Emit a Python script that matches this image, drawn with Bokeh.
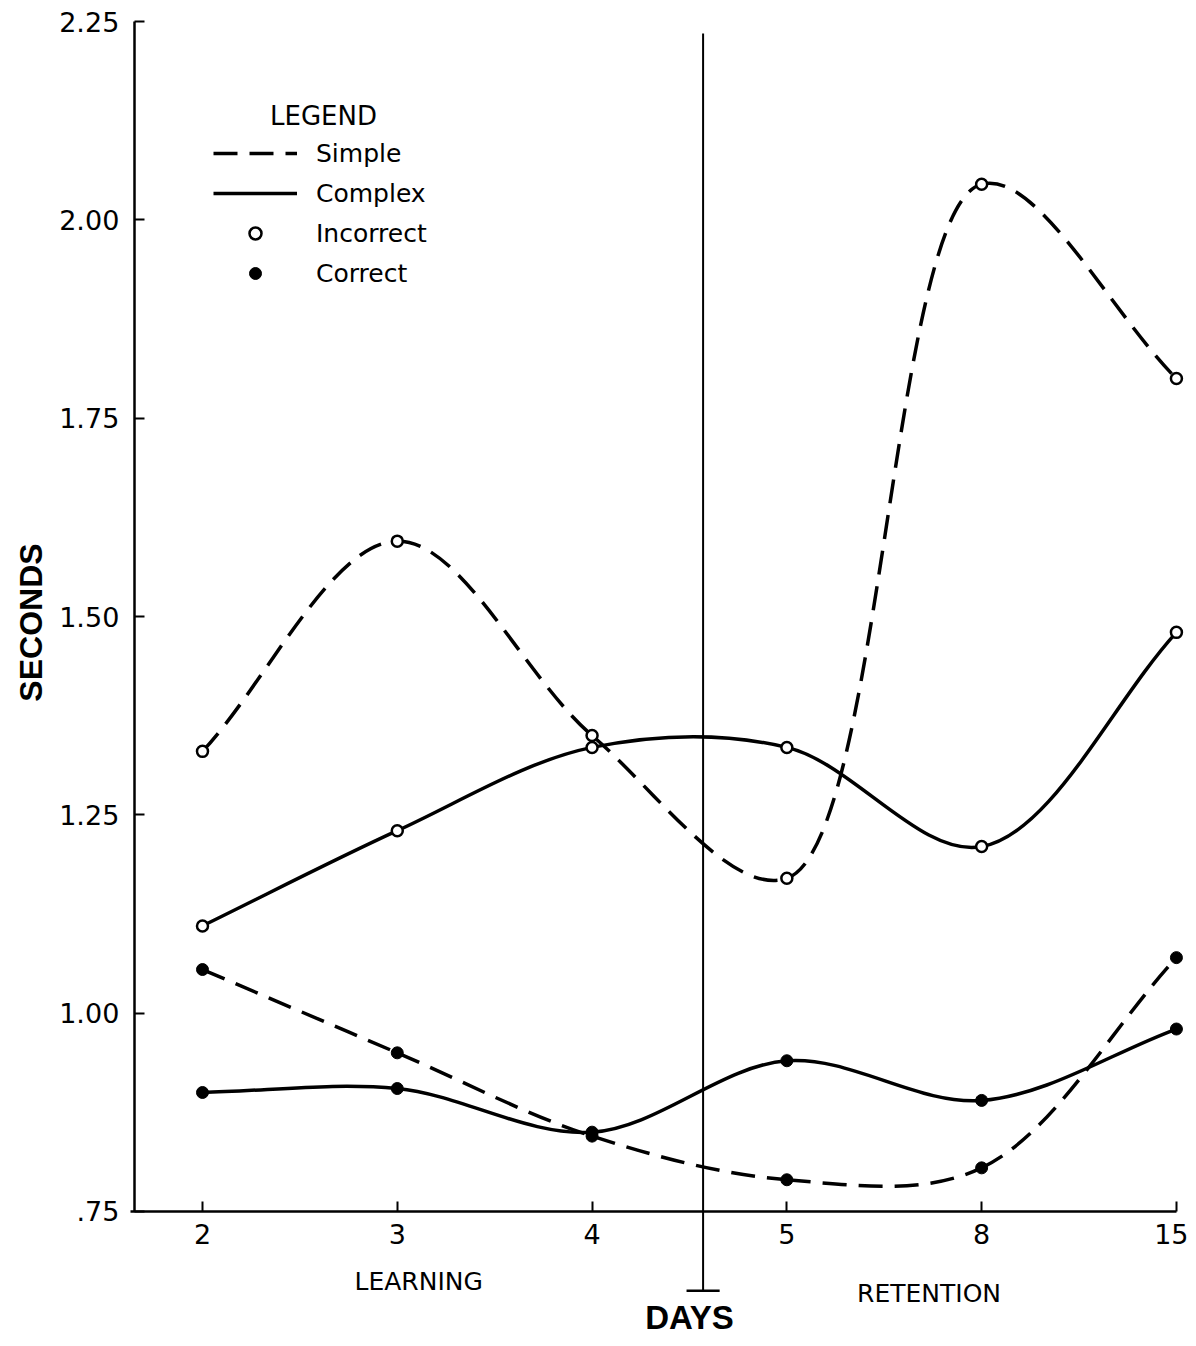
import math
from bokeh.plotting import figure
from bokeh.models import (Range1d, FixedTicker, CustomJSTickFormatter, Label,
                          Legend, LegendItem)
from bokeh.embed import file_html
from bokeh.resources import INLINE

# ---- data ----
days = ["2", "3", "4", "5", "8", "15"]
simple_incorrect = [1.33, 1.595, 1.35, 1.17, 2.045, 1.80]
complex_incorrect = [1.11, 1.23, 1.335, 1.335, 1.21, 1.48]
simple_correct = [1.055, 0.95, 0.845, 0.79, 0.805, 1.07]
complex_correct = [0.90, 0.905, 0.85, 0.94, 0.89, 0.98]
y_ticks = [0.75, 1.00, 1.25, 1.50, 1.75, 2.00, 2.25]

xs = list(range(len(days)))

FONT = "DejaVu Sans"
BOLD = "Liberation Sans"
DASH = "24 12"

W, H = 1188, 1338
X0, X1 = -1.037, 5.062
Y0, Y1 = 0.5899, 2.2765
p = figure(width=W, height=H,
           x_range=Range1d(X0, X1), y_range=Range1d(Y0, Y1),
           output_backend="svg", toolbar_location=None, min_border=0,
           outline_line_color=None, background_fill_color="white",
           border_fill_color="white")
p.title.visible = False
p.grid.visible = False

# axes drawn at fixed data locations inside the frame
p.xaxis.fixed_location = 0.75
p.yaxis.fixed_location = -0.35
p.xaxis.bounds = (-0.37, len(days) - 1)
p.yaxis.bounds = (y_ticks[0], y_ticks[-1])
p.xaxis.ticker = FixedTicker(ticks=xs)
p.yaxis.ticker = FixedTicker(ticks=y_ticks)
p.xaxis.formatter = CustomJSTickFormatter(args=dict(labels=days),
                                          code="return labels[Math.round(tick)]")
p.yaxis.formatter = CustomJSTickFormatter(
    code="const s = tick.toFixed(2); return tick < 1 ? s.slice(1) : s")
for ax in (p.xaxis, p.yaxis):
    ax.axis_line_width = 2.5
    ax.axis_line_color = "black"
    ax.major_tick_line_width = 2
    ax.major_tick_line_color = "black"
    ax.major_tick_in = 10
    ax.major_tick_out = 0
    ax.minor_tick_line_color = None
    ax.major_label_text_font = FONT
    ax.major_label_text_font_size = "27px"
    ax.major_label_text_color = "black"
p.xaxis.major_label_standoff = 13
p.yaxis.major_label_standoff = 15

SX = W / (X1 - X0)
SY = H / (Y1 - Y0)


def bezier_parts(x, y, alpha=0.5):
    """Centripetal Catmull-Rom through the data points, as cubic Bezier pieces."""
    P = [(xi * SX, yi * SY) for xi, yi in zip(x, y)]
    n = len(P)
    ext = ([(2 * P[0][0] - P[1][0], 2 * P[0][1] - P[1][1])] + P +
           [(2 * P[-1][0] - P[-2][0], 2 * P[-1][1] - P[-2][1])])

    def dist(a, b):
        return max(math.hypot(b[0] - a[0], b[1] - a[1]), 1e-9) ** alpha

    d = dict(x0=[], y0=[], x1=[], y1=[], cx0=[], cy0=[], cx1=[], cy1=[])
    for i in range(n - 1):
        p0, p1, p2, p3 = ext[i], ext[i + 1], ext[i + 2], ext[i + 3]
        t01, t12, t23 = dist(p0, p1), dist(p1, p2), dist(p2, p3)
        m1 = [t12 * ((p1[k] - p0[k]) / t01 - (p2[k] - p0[k]) / (t01 + t12)
                     + (p2[k] - p1[k]) / t12) for k in range(2)]
        m2 = [t12 * ((p2[k] - p1[k]) / t12 - (p3[k] - p1[k]) / (t12 + t23)
                     + (p3[k] - p2[k]) / t23) for k in range(2)]
        d["x0"].append(p1[0] / SX); d["y0"].append(p1[1] / SY)
        d["x1"].append(p2[0] / SX); d["y1"].append(p2[1] / SY)
        d["cx0"].append((p1[0] + m1[0] / 3) / SX); d["cy0"].append((p1[1] + m1[1] / 3) / SY)
        d["cx1"].append((p2[0] - m2[0] / 3) / SX); d["cy1"].append((p2[1] - m2[1] / 3) / SY)
    return d


series = [
    (simple_incorrect, DASH, False),
    (complex_incorrect, None, False),
    (simple_correct, DASH, True),
    (complex_correct, None, True),
]
curve_r = []
for vals, dash, filled in series:
    kw = dict(line_color="black", line_width=3.5)
    if dash:
        kw["line_dash"] = dash
    curve_r.append(p.bezier(**bezier_parts(xs, vals), **kw))
pt_r = []
for vals, dash, filled in series:
    if filled:
        pt_r.append(p.scatter(xs, vals, marker="circle", size=12, fill_color="black",
                              line_color="black", line_width=1))
    else:
        pt_r.append(p.scatter(xs, vals, marker="circle", size=11, fill_color="white",
                              line_color="black", line_width=2.5))

# learning / retention divider
DIV_X, DIV_TOP, DIV_BOT, DIV_HALF = 2.57, 2.235, 0.650, 0.085
p.segment(x0=[DIV_X], y0=[DIV_BOT], x1=[DIV_X], y1=[DIV_TOP],
          line_color="black", line_width=2)
p.segment(x0=[DIV_X - DIV_HALF], y0=[DIV_BOT], x1=[DIV_X + DIV_HALF], y1=[DIV_BOT],
          line_color="black", line_width=2.5)

# legend
legend = Legend(items=[LegendItem(label="Simple", renderers=[curve_r[0]]),
                       LegendItem(label="Complex", renderers=[curve_r[1]]),
                       LegendItem(label="Incorrect", renderers=[pt_r[0]]),
                       LegendItem(label="Correct", renderers=[pt_r[2]])],
                location=(213, 1050), glyph_width=84, glyph_height=30,
                label_height=30, spacing=10, padding=0, margin=0,
                border_line_color=None, background_fill_alpha=0,
                label_standoff=19, label_text_font=FONT,
                label_text_font_size="25px", label_text_color="black")
p.add_layout(legend)

p.add_layout(Label(x=323, y=1223, x_units="screen", y_units="screen", text="LEGEND",
                   text_align="center", text_baseline="middle", text_font=FONT,
                   text_font_size="26px", text_color="black"))
p.add_layout(Label(x=30, y=716, x_units="screen", y_units="screen", text="SECONDS",
                   angle=math.pi / 2, text_align="center", text_baseline="middle",
                   text_font=BOLD, text_font_style="bold", text_font_size="32px",
                   text_color="black"))
p.add_layout(Label(x=1.11, y=0.662, text="LEARNING", text_align="center",
                   text_baseline="middle", text_font=FONT, text_font_size="25px",
                   text_color="black"))
p.add_layout(Label(x=3.73, y=0.647, text="RETENTION", text_align="center",
                   text_baseline="middle", text_font=FONT, text_font_size="25px",
                   text_color="black"))
p.add_layout(Label(x=2.50, y=0.617, text="DAYS", text_align="center",
                   text_baseline="middle", text_font=BOLD, text_font_style="bold",
                   text_font_size="33px", text_color="black"))

open("out.html", "w").write(file_html(p, INLINE))
